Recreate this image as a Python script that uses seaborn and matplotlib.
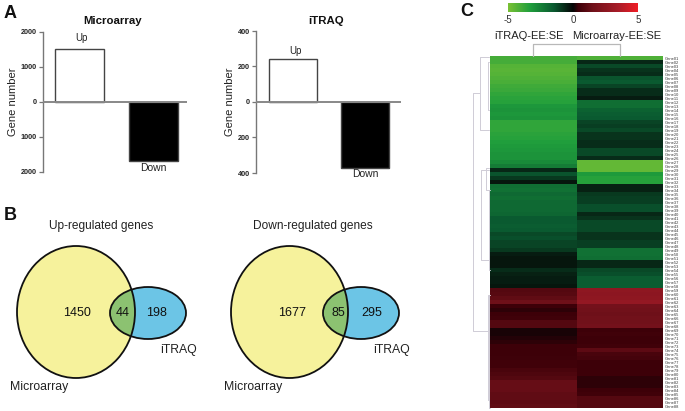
import matplotlib
matplotlib.use("Agg")
import matplotlib.pyplot as plt
import seaborn as sns
import pandas as pd
from matplotlib.colors import LinearSegmentedColormap
from matplotlib.patches import Ellipse

W, H = 685, 411
sns.set_theme(style="white")
plt.rcParams["font.family"] = ["Liberation Sans", "DejaVu Sans"]
plt.rcParams["axes.unicode_minus"] = False

# Panel A
directions = ["Up", "Down"]
microarray_counts = [1514, -1686]
itraq_counts = [242, -372]

# Panel B
venn_up = [1450, 44, 198]
venn_down = [1677, 85, 295]

itraq_values = [
    -4.0, -4.0, -4.3, -4.4, -4.3, -4.2, -4.1, -3.9, -3.8, -3.6, -3.5, -3.4,
    -3.1, -3.0, -3.1, -3.0, -3.6, -3.6, -3.6, -3.5, -3.4, -3.3, -3.2, -3.1,
    -3.0, -3.0, -2.8, -2.4, -0.6, -1.4, -0.9, -0.3, -2.0, -2.1, -1.9, -2.0,
    -1.9, -1.9, -1.9, -1.8, -1.5, -1.5, -1.6, -1.5, -1.2, -1.3, -1.1, -1.1,
    -0.9, -0.4, -0.3, -0.3, -0.3, -0.7, -0.5, -0.4, -0.4, -0.3, 0.9, 1.0,
    1.2, 1.5, 0.4, 0.3, 0.4, 0.5, 0.9, 0.9, 0.15, 0.15, 0.2, 0.3,
    0.4, 0.4, 0.4, 0.45, 0.5, 0.5, 0.7, 0.8, 0.9, 1.3, 1.3, 1.3,
    1.2, 1.2, 1.1, 1.2,
]
microarray_values = [
    -4.2, -0.6, -1.2, -0.8, -0.7, -1.4, -1.5, -1.1, -0.7, -0.7, -0.4, -2.0,
    -2.0, -1.7, -1.6, -1.5, -1.1, -1.0, -1.2, -0.8, -0.8, -0.7, -0.7, -1.2,
    -1.2, -0.7, -4.6, -4.6, -4.6, -3.2, -3.4, -3.4, -0.5, -0.5, -0.9, -1.0,
    -1.0, -1.3, -1.3, -0.6, -0.8, -1.2, -1.2, -1.2, -0.8, -0.8, -1.0, -1.0,
    -2.1, -2.1, -2.0, -0.6, -0.6, -1.2, -1.3, -1.6, -1.6, -1.6, 2.6, 2.5,
    2.6, 2.8, 1.7, 1.6, 1.5, 1.6, 1.6, 1.7, 0.4, 0.5, 0.4, 0.4,
    0.5, 1.1, 0.7, 0.6, 0.4, 0.4, 0.4, 0.4, 0.3, 0.3, 0.3, 0.4,
    0.5, 0.9, 0.9, 0.9,
]
# the reference's gene names are illegible at this size: neutral row labels
row_labels = [f"Gene{i + 1:02d}" for i in range(len(itraq_values))]
column_labels = ["iTRAQ-EE:SE", "Microarray-EE:SE"]


def px_axes(fig, left, top, right, bottom, **kw):
    return fig.add_axes([left / W, 1 - bottom / H, (right - left) / W, (bottom - top) / H], **kw)


fig = plt.figure(figsize=(W / 100, H / 100), dpi=100, facecolor="white")


def bars(rect, values, limit, step, xlim, ylabel_gap, up_offset, down_offset):
    ax = px_axes(fig, *rect)
    df = pd.DataFrame({"direction": directions, "count": values})
    sns.barplot(data=df, x="direction", y="count", hue="direction", palette=["white", "black"],
                dodge=False, legend=False, width=0.667, edgecolor="#444444", linewidth=1.0, ax=ax)
    ax.patch.set_alpha(0)
    ax.set_xlim(*xlim)
    ax.set_ylim(-limit, limit)
    ax.set_xlabel("")
    ax.set_ylabel("Gene number", fontsize=8, color="#222222")
    ax.yaxis.set_label_coords(ylabel_gap, 0.5)
    ax.set_xticks([])
    ticks = [-limit, -step, 0, step, limit]
    ax.set_yticks(ticks)
    ax.set_yticklabels([str(abs(t)) for t in ticks], fontsize=5.2, fontweight="bold", color="#222222")
    ax.tick_params(axis="y", left=True, length=3, width=0.9, color="#777777", pad=1.5)
    for name in ["top", "right", "bottom"]:
        ax.spines[name].set_visible(False)
    ax.spines["left"].set_color("#777777")
    ax.spines["left"].set_linewidth(1.0)
    ax.axhline(0, color="#888888", lw=1.4, zorder=5)
    ax.text(0.03, values[0] + limit * up_offset, directions[0], ha="center", va="bottom", fontsize=7, color="#222222")
    ax.text(1, values[1] - limit * down_offset, directions[1], ha="center", va="top", fontsize=7.5, color="#222222")
    return ax


bars((43, 32, 187, 172), microarray_counts, 2000, 1000, (-0.497, 1.46), -0.175, 0.085, 0.035)
bars((256, 31, 401, 173), itraq_counts, 400, 200, (-0.51, 1.5), -0.145, 0.04, 0.01)

# Panel C heatmap
cmap = LinearSegmentedColormap.from_list("gbr", [
    (0.0, "#78c034"), (0.17, "#1f9e3c"), (0.35, "#0a5a30"), (0.5, "#050505"),
    (0.54, "#3c0008"), (0.65, "#6e1019"), (0.85, "#a81c28"), (1.0, "#ee1c25"),
])
heat_df = pd.DataFrame({column_labels[0]: itraq_values, column_labels[1]: microarray_values}, index=row_labels)
hax = px_axes(fig, 490, 56, 663, 408)
cax = px_axes(fig, 508, 3, 638, 12)
sns.heatmap(heat_df, ax=hax, cmap=cmap, vmin=-5, vmax=5, cbar_ax=cax,
            cbar_kws={"orientation": "horizontal", "ticks": [-5, 0, 5]},
            xticklabels=False, yticklabels=True)
hax.yaxis.tick_right()
hax.tick_params(axis="y", length=0, labelsize=2.9, labelrotation=0, pad=1.5, labelcolor="#333333")
hax.set_ylabel("")
cax.tick_params(axis="x", length=0, labelsize=7, pad=2, labelcolor="#333333")
hax.collections[0].colorbar.outline.set_visible(False)

# overlay in pixel coordinates for the venns, dendrograms and free labels
ov = fig.add_axes([0, 0, 1, 1], zorder=10)
ov.set_xlim(0, W)
ov.set_ylim(H, 0)
ov.axis("off")
ov.patch.set_alpha(0)


def venn(x_big, x_small, counts, xs, title, title_x, label_big_x, label_small_x):
    y_mid_big, y_mid_small = 312, 313
    big = Ellipse(((x_big[0] + x_big[1]) / 2, y_mid_big), x_big[1] - x_big[0], 132, fc="#f6f29c", ec="none", zorder=1)
    small = Ellipse(((x_small[0] + x_small[1]) / 2, y_mid_small), x_small[1] - x_small[0], 52, fc="#6cc5e6", ec="none", zorder=2)
    ov.add_patch(big)
    ov.add_patch(small)
    clip = Ellipse(big.center, big.width, big.height, transform=ov.transData, fc="none", ec="none")
    ov.add_patch(clip)
    both = Ellipse(small.center, small.width, small.height, fc="#8cc271", ec="none", zorder=3)
    ov.add_patch(both)
    both.set_clip_path(clip)
    for e in (big, small):
        ov.add_patch(Ellipse(e.center, e.width, e.height, fc="none", ec="#111111", lw=1.3, zorder=4))
    for x, c in zip(xs, counts):
        ov.text(x, 313, str(c), ha="center", va="center", fontsize=9, color="#111111", zorder=5)
    ov.text(title_x, 226, title, ha="center", va="center", fontsize=8.6, color="#222222")
    ov.text(label_big_x, 387, "Microarray", ha="left", va="center", fontsize=8.8, color="#222222")
    ov.text(label_small_x, 350, "iTRAQ", ha="left", va="center", fontsize=8.8, color="#222222")


venn((17, 135), (110, 186), venn_up, (77, 123, 157), "Up-regulated genes", 101, 10, 160)
venn((231, 348), (323, 399), venn_down, (292, 338, 372), "Down-regulated genes", 313, 224, 373)

for letter, x, y in [("A", 4, 13), ("B", 4, 215), ("C", 460, 12)]:
    ov.text(x, y, letter, ha="left", va="center", fontsize=13, fontweight="bold", color="#111111")
ov.text(113, 21, "Microarray", ha="center", va="center", fontsize=8.2, fontweight="bold", color="#111111")
ov.text(326, 21, "iTRAQ", ha="center", va="center", fontsize=8.2, fontweight="bold", color="#111111")
ov.text(529, 36, column_labels[0], ha="center", va="center", fontsize=8, color="#222222")
ov.text(617, 36, column_labels[1], ha="center", va="center", fontsize=8, color="#222222")

# dendrogram brackets: (x_left, y_top, y_bottom) with arms running to the heatmap side
dendro_color = "#cfccd6"
ov.plot([533, 533, 620, 620], [56, 44, 44, 56], color="#b8b8b8", lw=0.9)
brackets = [
    (473, 93, 331, 480, 489), (480, 57, 130, 489, 489), (481, 170, 260, 489, 489),
    (488, 62, 110, 489, 489), (486, 168, 190, 489, 489), (488, 295, 400, 489, 489),
    (489, 190, 270, 490, 490), (489, 295, 408, 490, 490),
]
for x, y0, y1, arm0, arm1 in brackets:
    ov.plot([arm0, x, x, arm1], [y0, y0, y1, y1], color=dendro_color, lw=0.7)

fig.savefig("out.png", dpi=100, facecolor="white")
